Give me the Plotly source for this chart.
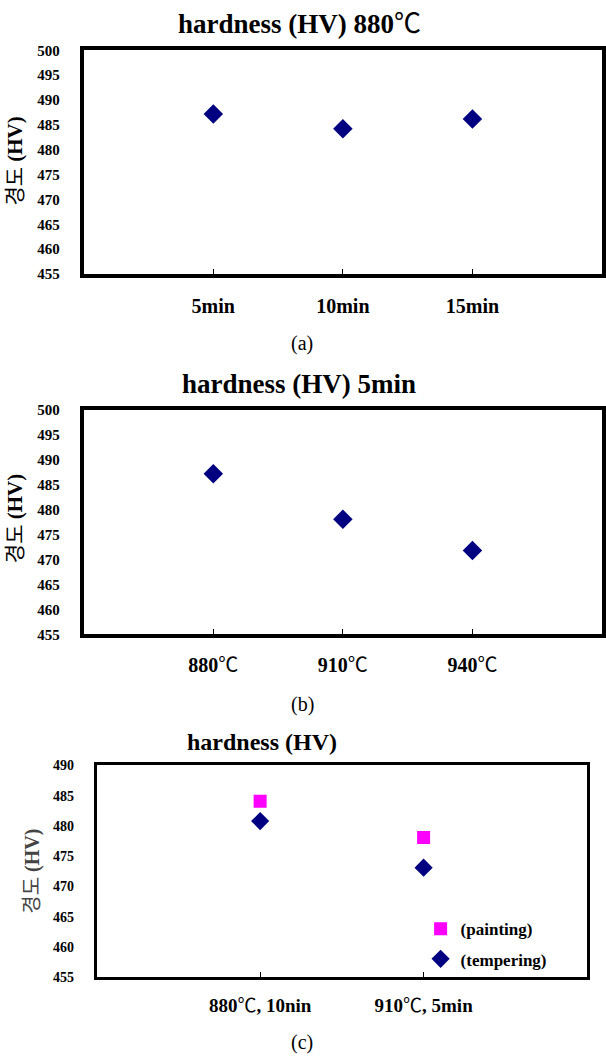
import plotly.graph_objects as go

# ---------------- data ----------------
time_cats = ["5min", "10min", "15min"]
hv_880C = [487.2, 484.2, 486.2]

temp_cats = ["880℃", "910℃", "940℃"]
hv_5min = [487.2, 478.1, 471.8]

cond_cats = ["880℃, 10nin", "910℃, 5min"]
hv_painting = [484.1, 478.1]
hv_tempering = [480.8, 473.1]

yticks_ab = [455, 460, 465, 470, 475, 480, 485, 490, 495, 500]
yticks_c = [455, 460, 465, 470, 475, 480, 485, 490]

W, H = 606, 1064
NAVY = "#000080"
MAGENTA = "#FF00FF"
SERIF = "Liberation Serif, 'Noto Sans CJK KR', serif"
DEG = '<span style="font-weight:normal;font-family:\'Noto Sans CJK KR\'">℃</span>'


def px(x):
    return x / W


def py(y):
    return 1 - y / H


def fmt(s):
    return s.replace("℃", DEG)


fig = go.Figure()

# (a)
fig.add_trace(go.Scatter(
    x=[i + 1 for i in range(len(time_cats))], y=hv_880C, mode="markers",
    marker=dict(symbol="diamond", size=15, color=NAVY),
    xaxis="x", yaxis="y", showlegend=False))
# (b)
fig.add_trace(go.Scatter(
    x=[i + 1 for i in range(len(temp_cats))], y=hv_5min, mode="markers",
    marker=dict(symbol="diamond", size=15, color=NAVY),
    xaxis="x2", yaxis="y2", showlegend=False))
# (c)
fig.add_trace(go.Scatter(
    x=[i + 1 for i in range(len(cond_cats))], y=hv_painting, mode="markers",
    name="(painting)", legendgroup="p",
    marker=dict(symbol="square", size=13, color=MAGENTA),
    xaxis="x3", yaxis="y3"))
fig.add_trace(go.Scatter(
    x=[i + 1 for i in range(len(cond_cats))], y=hv_tempering, mode="markers",
    name="(tempering)", legendgroup="t",
    marker=dict(symbol="diamond", size=14, color=NAVY),
    xaxis="x3", yaxis="y3"))


def xax(dom, anchor, rng, cats, size, lw, standoff):
    return dict(domain=dom, anchor=anchor, range=rng,
                tickvals=[i + 1 for i in range(len(cats))],
                ticktext=[fmt(c) for c in cats],
                ticks="inside", ticklen=5, tickwidth=1, tickcolor="black",
                showline=True, linecolor="black", linewidth=lw, mirror=True,
                showgrid=False, zeroline=False, ticklabelstandoff=standoff,
                tickfont=dict(family=SERIF, size=size, color="black", weight="bold"))


def yax(dom, anchor, rng, tv, size, lw):
    return dict(domain=dom, anchor=anchor, range=rng, tickvals=tv,
                ticks="", showline=True, linecolor="black", linewidth=lw,
                mirror=True, showgrid=False, zeroline=False,
                ticklabelstandoff=17,
                tickfont=dict(family=SERIF, size=size, color="black", weight="bold"))


fig.update_layout(
    width=W, height=H, margin=dict(l=0, r=0, t=0, b=0),
    paper_bgcolor="white", plot_bgcolor="white",
    xaxis=xax([px(84), px(604)], "y", [0, 4], time_cats, 20, 4, 11),
    yaxis=yax([py(270), py(43)], "x", [455, 500], yticks_ab, 15, 4),
    xaxis2=xax([px(84), px(604)], "y2", [0, 4], temp_cats, 20, 4, 10),
    yaxis2=yax([py(636), py(408)], "x2", [455, 500], yticks_ab, 15, 4),
    xaxis3=xax([px(97), px(589)], "y3", [0, 3], cond_cats, 19, 3, 9),
    yaxis3=yax([py(984), py(769)], "x3", [455, 490], yticks_c, 14, 3),
    showlegend=True,
    legend=dict(x=px(422), y=py(917), xanchor="left", yanchor="top",
                bgcolor="rgba(0,0,0,0)", tracegroupgap=5,
                font=dict(family=SERIF, size=17, color="black", weight="bold")),
)

ann = []


def text(x, y, t, size, bold=False, angle=0, color="black"):
    ann.append(dict(x=px(x), y=py(y), xref="paper", yref="paper", text=t,
                    showarrow=False, textangle=angle, xanchor="center", yanchor="middle",
                    font=dict(family=SERIF, size=size, color=color,
                              weight="bold" if bold else "normal")))


text(300, 14, fmt("hardness (HV) 880℃"), 27, bold=True)
text(300, 382, "hardness (HV) 5min", 27, bold=True)
text(263, 745, "hardness (HV)", 24, bold=True)

text(15, 155, "경도 <b>(HV)</b>", 21, angle=-90)
text(15, 518, "경도 <b>(HV)</b>", 21, angle=-90)
text(33, 876, "경도 <b>(HV)</b>", 20, angle=-90, color="#444444")

text(303, 341, "(a)", 20)
text(303, 707, "(b)", 20)
text(303, 1050, "(c)", 20)

fig.update_layout(annotations=ann)

fig.write_html("out.html")
